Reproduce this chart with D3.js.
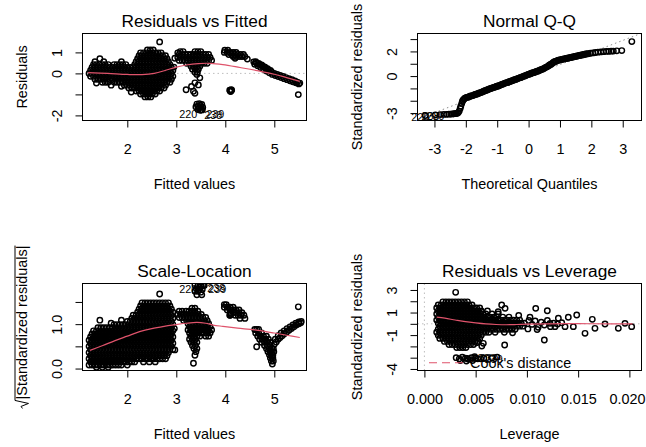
<!DOCTYPE html>
<html>
<head>
<meta charset="utf-8">
<script src="https://cdn.jsdelivr.net/npm/d3@7"></script>
<style>
  html, body { margin: 0; padding: 0; background: #fff; }
  svg { display: block; }
</style>
</head>
<body>
<svg id="chart" width="646" height="447"></svg>
<script>
// ---------------- Residuals vs Fitted ----------------
// rows of points: [residual, [fitted values...]]
const fitResidRows = [
  [1.12,[2.41,2.47,2.53]],
  [0.98,[2.27,2.33,2.39,2.45,2.51,2.57,2.63,2.69]],
  [0.84,[2.24,2.30,2.36,2.42,2.48,2.54,2.60,2.66,2.72,2.78]],
  [0.70,[2.21,2.27,2.33,2.39,2.45,2.51,2.57,2.63,2.69,2.75,2.81]],
  [0.56,[1.34,1.52,1.88,2.18,2.24,2.30,2.36,2.42,2.48,2.54,2.60,2.66,2.72,2.78,2.84]],
  [0.42,[1.31,1.37,1.43,1.49,1.55,1.61,1.73,1.79,1.85,1.91,1.97,2.15,2.21,2.27,2.33,2.39,2.45,2.51,2.57,2.63,2.69,2.75,2.81,2.87]],
  [0.28,[1.28,1.34,1.40,1.46,1.52,1.58,1.64,1.70,1.76,1.82,1.88,1.94,2.00,2.06,2.12,2.18,2.24,2.30,2.36,2.42,2.48,2.54,2.60,2.66,2.72,2.78,2.84,2.90]],
  [0.14,[1.25,1.31,1.37,1.43,1.49,1.55,1.61,1.67,1.73,1.79,1.85,1.91,1.97,2.03,2.09,2.15,2.21,2.27,2.33,2.39,2.45,2.51,2.57,2.63,2.69,2.75,2.81,2.87,2.93]],
  [0.00,[1.22,1.28,1.34,1.40,1.46,1.52,1.58,1.64,1.70,1.76,1.82,1.88,1.94,2.00,2.06,2.12,2.18,2.24,2.30,2.36,2.42,2.48,2.54,2.60,2.66,2.72,2.78,2.84,2.90]],
  [-0.14,[1.25,1.31,1.37,1.43,1.49,1.55,1.61,1.67,1.73,1.79,1.85,1.91,1.97,2.03,2.09,2.15,2.21,2.27,2.33,2.39,2.45,2.51,2.57,2.63,2.69,2.75,2.81,2.87,2.93]],
  [-0.28,[1.34,1.40,1.46,1.52,1.58,1.64,1.70,1.76,1.82,1.88,1.94,2.00,2.06,2.12,2.18,2.24,2.30,2.36,2.42,2.48,2.54,2.60,2.66,2.72,2.78,2.84,2.90]],
  [-0.42,[1.49,1.55,1.61,1.73,1.79,1.85,1.91,1.97,2.03,2.09,2.15,2.21,2.27,2.33,2.39,2.45,2.51,2.57,2.63,2.69,2.75,2.81,2.87]],
  [-0.56,[1.94,2.00,2.06,2.12,2.18,2.24,2.30,2.36,2.42,2.48,2.54,2.60,2.66,2.72,2.78]],
  [-0.70,[2.03,2.09,2.15,2.21,2.27,2.33,2.39,2.45,2.51,2.57,2.63,2.69,2.75]],
  [-0.84,[2.18,2.24,2.30,2.36,2.42,2.48,2.54,2.60,2.66]],
  [-0.98,[2.27,2.33,2.39,2.45,2.51,2.57]],
  [-1.12,[2.36,2.42,2.48]],
  [1.04,[3.08,3.14,3.38,3.44,3.50]],
  [0.90,[3.06,3.12,3.18,3.24,3.30,3.36,3.42,3.48,3.54,3.60,3.66]],
  [0.76,[3.03,3.09,3.15,3.21,3.27,3.33,3.39,3.45,3.51,3.57,3.63,3.69]],
  [0.62,[3.06,3.12,3.18,3.24,3.30,3.36,3.42,3.48,3.54,3.60,3.66,3.72]],
  [0.48,[3.21,3.27,3.33,3.39,3.45,3.51,3.57,3.63]],
  [0.34,[3.30,3.36,3.42,3.48]],
  [0.20,[3.33,3.39,3.45]],
  [0.06,[3.38,3.43]],
  [1.10,[3.99,4.05]],
  [1.00,[3.98,4.04,4.10,4.16,4.22]],
  [0.90,[4.07,4.13,4.19,4.25,4.31,4.37]],
  [0.80,[4.16,4.22,4.28,4.34,4.40]]
];
// single points: [fitted, residual]
const fitResidPoints = [
  [2.66,1.50],[1.44,0.70],[1.37,-0.46],[1.67,-0.56],[1.88,-0.61],[2.08,-0.89],[2.97,0.72],[2.95,0.30],
  [3.03,0.98],[3.20,-0.78],[3.31,-0.62],[3.35,-0.85],[3.38,-0.95],[3.38,-0.45],[3.45,-0.55],[3.48,-0.21],
  [3.42,-0.05],[4.45,0.68],[4.20,0.72],[5.49,-1.01],
  [3.42,-1.46],[3.47,-1.44],[3.52,-1.48],[3.44,-1.56],[3.50,-1.58],[3.46,-1.66],[3.40,-1.60],[3.54,-1.62],
  [3.49,-1.52],[3.44,-1.72],[3.51,-1.73],[3.49,-1.76],[3.53,-1.74],
  [4.09,-0.80],[4.13,-0.80],[4.11,-0.86],[4.10,-0.84],[4.12,-0.78],[4.11,-0.82],
  [4.58,0.55],[4.60,0.44],[4.62,0.56],[4.64,0.50],[4.66,0.37],[4.68,0.48],[4.70,0.43],[4.72,0.28],
  [4.74,0.40],[4.76,0.35],[4.78,0.20],[4.80,0.31],[4.82,0.27],[4.84,0.11],[4.86,0.22],[4.88,0.18],
  [4.90,0.03],[4.92,0.14],[4.94,0.08],[4.96,-0.05],[5.00,0.00],[5.02,-0.10],[5.06,-0.05],[5.08,-0.15],
  [5.12,-0.10],[5.14,-0.20],[5.18,-0.15],[5.20,-0.25],[5.24,-0.20],[5.26,-0.30],[5.30,-0.25],[5.32,-0.35],
  [5.36,-0.30],[5.38,-0.40],[5.42,-0.36],[5.44,-0.45],[5.47,-0.42],[5.50,-0.50],[5.52,-0.46]
];
const fitResidIds = [["220",3.51,-1.73,"left"],["238",3.49,-1.76,"right"],["239",3.53,-1.74,"right"]];
const fitResidSmooth = [[1.20,0.04],[1.60,0.00],[2.00,-0.05],[2.30,-0.06],[2.55,0.00],[2.80,0.16],[3.00,0.30],
  [3.20,0.40],[3.45,0.47],[3.70,0.48],[3.95,0.42],[4.30,0.28],[4.70,0.11],[5.00,-0.04],[5.25,-0.20],[5.52,-0.38]];
const fitTicks = [2,3,4,5];
const fitTickLabels = ["2","3","4","5"];
const residTicks = [-2,-1,0,1];
const residTickLabels = ["-2","","0","1"];

// ---------------- Normal Q-Q ----------------
// [theoretical quantile, standardized residual]
const qqPoints = [
  [-3.29,-3.20],[-2.97,-3.14],[-2.81,-3.12],[-2.70,-3.11],[-2.61,-3.10],[-2.54,-3.09],[-2.48,-3.08],[-2.43,-3.07],
  [-2.39,-3.06],[-2.35,-3.05],[-2.31,-3.03],[-2.27,-3.01],[-2.24,-2.96],[-2.21,-2.84],[-2.18,-2.62],[-2.16,-2.44],
  [-2.13,-2.22],[-2.11,-2.06],[-2.09,-1.96],[-2.06,-1.88],[-2.03,-1.80],[-1.98,-1.74],[-1.94,-1.71],
  [-1.88,-1.66],[-1.81,-1.60],[-1.74,-1.54],[-1.67,-1.47],[-1.60,-1.41],[-1.53,-1.34],[-1.46,-1.27],[-1.39,-1.19],
  [-1.32,-1.12],[-1.25,-1.05],[-1.18,-0.98],[-1.11,-0.92],[-1.04,-0.86],[-0.97,-0.80],[-0.90,-0.73],[-0.83,-0.66],
  [-0.76,-0.59],[-0.69,-0.53],[-0.62,-0.46],[-0.55,-0.40],[-0.48,-0.33],[-0.41,-0.27],[-0.34,-0.20],[-0.27,-0.13],
  [-0.20,-0.06],[-0.13,0.01],[-0.06,0.08],[0.01,0.15],[0.08,0.21],[0.15,0.28],[0.22,0.34],[0.29,0.40],
  [0.36,0.47],[0.43,0.55],[0.50,0.63],[0.57,0.73],[0.64,0.84],[0.71,0.96],[0.78,1.09],[0.85,1.19],
  [0.92,1.26],[0.99,1.31],[1.06,1.35],[1.13,1.39],[1.20,1.43],[1.27,1.47],[1.34,1.51],[1.41,1.55],
  [1.48,1.59],[1.55,1.63],[1.62,1.67],[1.69,1.71],[1.76,1.75],[1.83,1.79],[1.90,1.82],[1.97,1.85],
  [2.05,1.88],[2.13,1.91],[2.21,1.94],[2.30,1.96],[2.39,1.98],[2.48,2.00],[2.56,2.01],[2.63,2.02],
  [2.70,2.03],[2.81,2.05],[2.97,2.07],[3.29,2.80],
  [-1.91,-1.70],[-1.85,-1.61],[-1.78,-1.58],[-1.71,-1.49],[-1.64,-1.45],[-1.57,-1.37],[-1.50,-1.32],[-1.43,-1.22],
  [-1.36,-1.17],[-1.29,-1.08],[-1.22,-1.02],[-1.15,-0.95],[-1.08,-0.90],[-1.01,-0.82],[-0.94,-0.78],[-0.87,-0.69],
  [-0.80,-0.63],[-0.73,-0.55],[-0.66,-0.51],[-0.59,-0.43],[-0.52,-0.37],[-0.45,-0.29],[-0.38,-0.24],[-0.31,-0.16],
  [-0.24,-0.11],[-0.17,-0.02],[-0.10,0.03],[-0.03,0.12],[0.04,0.17],[0.11,0.25],[0.18,0.30],[0.25,0.38],
  [0.32,0.43],[0.39,0.52],[0.46,0.58],[0.53,0.69],[0.60,0.77],[0.67,0.90],[0.74,1.01],[0.81,1.14],
  [0.88,1.21],[0.95,1.29],[1.02,1.32],[1.09,1.38],[1.16,1.40],[1.23,1.45],[1.30,1.48],[1.37,1.53],
  [1.44,1.56],[1.51,1.61],[1.58,1.64],[1.65,1.69],[1.72,1.72],[1.79,1.77],[1.86,1.80]
];
const qqIds = [["220",-3.29,-3.20,"center"],["238",-2.97,-3.14,"center"],["239",-2.81,-3.12,"center"]];
const qqLineCoef = [-0.04, 0.977];   // intercept, slope
const qqXTicks = [-3,-2,-1,0,1,2,3];
const qqXTickLabels = ["-3","-2","-1","0","1","2","3"];
const qqYTicks = [-3,-2,-1,0,1,2,3];
const qqYTickLabels = ["-3","","","0","","2",""];

// ---------------- Scale-Location ----------------
const scaleRows = [
  [1.48,[2.30,2.36,2.42,2.48,2.54,2.60,2.66,2.72,2.78,2.84]],
  [1.41,[2.27,2.33,2.39,2.45,2.51,2.57,2.63,2.69,2.75,2.81,2.87]],
  [1.34,[2.24,2.30,2.36,2.42,2.48,2.54,2.60,2.66,2.72,2.78,2.84,2.90]],
  [1.27,[2.21,2.27,2.33,2.39,2.45,2.51,2.57,2.63,2.69,2.75,2.81,2.87,2.93]],
  [1.20,[2.12,2.18,2.24,2.30,2.36,2.42,2.48,2.54,2.60,2.66,2.72,2.78,2.84,2.90]],
  [1.13,[2.09,2.15,2.21,2.27,2.33,2.39,2.45,2.51,2.57,2.63,2.69,2.75,2.81,2.87,2.93]],
  [1.06,[2.00,2.06,2.12,2.18,2.24,2.30,2.36,2.42,2.48,2.54,2.60,2.66,2.72,2.78,2.84,2.90]],
  [0.99,[1.73,1.79,1.85,1.91,1.97,2.03,2.09,2.15,2.21,2.27,2.33,2.39,2.45,2.51,2.57,2.63,2.69,2.75,2.81,2.87,2.93]],
  [0.92,[1.40,1.46,1.52,1.58,1.64,1.70,1.76,1.82,1.88,1.94,2.00,2.06,2.12,2.18,2.24,2.30,2.36,2.42,2.48,2.54,2.60,2.66,2.72,2.78,2.84,2.90]],
  [0.85,[1.31,1.37,1.43,1.49,1.55,1.61,1.67,1.73,1.79,1.85,1.91,1.97,2.03,2.09,2.15,2.21,2.27,2.33,2.39,2.45,2.51,2.57,2.63,2.69,2.75,2.81,2.87,2.93]],
  [0.78,[1.28,1.34,1.40,1.46,1.52,1.58,1.64,1.70,1.76,1.82,1.88,1.94,2.00,2.06,2.12,2.18,2.24,2.30,2.36,2.42,2.48,2.54,2.60,2.66,2.72,2.78,2.84,2.90]],
  [0.71,[1.25,1.31,1.37,1.43,1.49,1.55,1.61,1.67,1.73,1.79,1.85,1.91,1.97,2.03,2.09,2.15,2.21,2.27,2.33,2.39,2.45,2.51,2.57,2.63,2.69,2.75,2.81,2.87,2.93]],
  [0.64,[1.22,1.28,1.34,1.40,1.46,1.52,1.58,1.64,1.70,1.76,1.82,1.88,1.94,2.00,2.06,2.12,2.18,2.24,2.30,2.36,2.42,2.48,2.54,2.60,2.66,2.72,2.78,2.84,2.90]],
  [0.57,[1.25,1.31,1.37,1.43,1.49,1.55,1.61,1.67,1.73,1.79,1.85,1.91,1.97,2.03,2.09,2.15,2.21,2.27,2.33,2.39,2.45,2.51,2.57,2.63,2.69,2.75,2.81,2.87,2.93]],
  [0.50,[1.22,1.28,1.34,1.40,1.46,1.52,1.58,1.64,1.70,1.76,1.82,1.88,1.94,2.00,2.06,2.12,2.18,2.24,2.30,2.36,2.42,2.48,2.54,2.60,2.66,2.72,2.78,2.84,2.90]],
  [0.43,[1.25,1.31,1.37,1.43,1.49,1.55,1.61,1.67,1.73,1.79,1.85,1.91,1.97,2.03,2.09,2.15,2.21,2.27,2.33,2.39,2.45,2.51,2.57,2.63,2.69,2.75,2.81,2.87,2.93]],
  [0.36,[1.22,1.28,1.34,1.40,1.46,1.52,1.58,1.64,1.70,1.76,1.82,1.88,1.94,2.00,2.06,2.12,2.18,2.24,2.30,2.36,2.42,2.48,2.54,2.60,2.66,2.72,2.78,2.84]],
  [0.29,[1.25,1.31,1.37,1.43,1.49,1.55,1.61,1.67,1.73,1.79,1.85,1.91,1.97,2.03,2.09,2.15,2.21,2.27,2.33,2.39,2.45,2.51,2.57,2.63,2.69,2.75,2.81]],
  [0.22,[1.22,1.28,1.34,1.40,1.46,1.52,1.58,1.64,1.70,1.76,1.82,1.88,1.94,2.00,2.06,2.12,2.18,2.24,2.30,2.36,2.42,2.48,2.54,2.60,2.66,2.72,2.78]],
  [0.15,[1.25,1.31,1.37,1.43,1.49,1.55,1.61,1.67,1.73,1.79,1.85,1.91,1.97,2.03,2.09,2.15,2.33,2.45,2.57]],
  [0.08,[1.22,1.28,1.34,1.40,1.46,1.52,1.58,1.64,1.70,1.76,1.82,1.88,2.00]],
  [0.03,[1.37,1.49,1.61]],
  [1.36,[3.32,3.38]],
  [1.29,[3.06,3.12,3.20,3.26,3.32,3.38,3.44]],
  [1.22,[3.03,3.09,3.15,3.21,3.27,3.33,3.39,3.45,3.51]],
  [1.15,[3.06,3.12,3.18,3.24,3.30,3.36,3.42,3.48,3.54,3.60]],
  [1.08,[3.15,3.21,3.27,3.33,3.39,3.45,3.51,3.57,3.63]],
  [1.01,[3.24,3.30,3.36,3.42,3.48,3.54,3.60,3.66]],
  [0.94,[3.27,3.33,3.39,3.45,3.51,3.57,3.63,3.69]],
  [0.87,[3.24,3.30,3.36,3.42,3.48,3.54,3.60,3.66,3.72]],
  [0.80,[3.27,3.33,3.39,3.45,3.51,3.57,3.63,3.69]],
  [0.73,[3.30,3.36,3.42,3.48,3.60,3.66]],
  [0.66,[3.27,3.33,3.39]],
  [0.59,[3.30,3.36,3.42]],
  [0.52,[3.33,3.39]],
  [0.45,[3.36,3.42]],
  [0.38,[3.40]],
  [1.44,[3.98,4.02]],
  [1.38,[3.98,4.04,4.10,4.16]],
  [1.32,[4.04,4.10,4.16,4.22,4.28]],
  [1.26,[4.10,4.16,4.22,4.28,4.34]],
  [1.20,[4.10,4.20,4.26,4.32,4.38]],
  [1.13,[4.30,4.40]],
  [0.88,[4.60,4.64,4.68]],
  [0.80,[4.62,4.68,4.74]],
  [0.73,[4.66,4.72,4.78,4.84]],
  [0.66,[4.70,4.76,4.82,4.88]],
  [0.59,[4.74,4.80,4.86,4.92]],
  [0.52,[4.80,4.86,4.92]],
  [0.45,[4.84,4.90,4.95]],
  [0.38,[4.87,4.92,4.96]],
  [0.31,[4.90,4.95]],
  [0.24,[4.92,4.97]],
  [0.17,[4.94,4.98]],
  [0.10,[4.96]]
];
const scalePoints = [
  [2.66,1.68],[1.44,1.09],[1.67,1.02],[1.88,1.09],[2.97,0.42],[2.96,0.90],[3.35,0.12],[3.38,0.30],
  [4.64,0.49],[5.49,1.39],[4.11,1.22],[4.12,1.24],[4.09,1.20],
  [3.38,1.88],[3.44,1.86],[3.50,1.84],[3.41,1.80],[3.47,1.78],[3.44,1.74],[3.50,1.72],[3.38,1.74],
  [3.53,1.78],[3.42,1.66],[3.52,1.66],[3.51,1.87],[3.55,1.88],[3.57,1.87],
  [4.97,0.30],[4.99,0.38],[4.98,0.45],[5.00,0.55],[5.04,0.60],[5.08,0.66],[5.12,0.70],[5.16,0.74],
  [5.20,0.78],[5.25,0.82],[5.30,0.86],[5.35,0.90],[5.40,0.94],[5.45,0.98],[5.50,1.01],[5.54,1.03],
  [5.02,0.66],[5.08,0.74],[5.14,0.80],[5.20,0.85],[5.26,0.90],[5.32,0.94],[5.38,0.98],[5.44,1.02],
  [5.50,1.05],[5.55,1.06]
];
const scaleIds = [["220",3.51,1.87,"left"],["238",3.55,1.88,"right"],["239",3.57,1.87,"right"]];
const scaleSmooth = [[1.24,0.41],[1.50,0.52],[1.75,0.63],[2.00,0.73],[2.25,0.83],[2.50,0.90],[2.75,0.95],
  [3.00,0.99],[3.20,1.02],[3.42,1.04],[3.60,1.02],[3.75,0.98],[3.95,0.95],[4.25,0.91],[4.60,0.87],
  [5.00,0.80],[5.25,0.75],[5.52,0.70]];
const scaleTicks = [0,0.5,1,1.5];
const scaleTickLabels = ["0.0","","1.0",""];

// ---------------- Residuals vs Leverage ----------------
const levRows = [
  [1.95,[0.0018,0.0021,0.0024,0.0027,0.0030,0.0033,0.0036,0.0039,0.0042]],
  [1.68,[0.00135,0.00165,0.00195,0.00225,0.00255,0.00285,0.00315,0.00345,0.00375,0.00405,0.00435,0.00465]],
  [1.41,[0.0012,0.0015,0.0018,0.0021,0.0024,0.0027,0.0030,0.0033,0.0036,0.0039,0.0042,0.0045,0.0048,0.0051,0.0054]],
  [1.14,[0.00135,0.00165,0.00195,0.00225,0.00255,0.00285,0.00315,0.00345,0.00375,0.00405,0.00435,0.00465,0.00495,0.00525,0.00555,0.00615]],
  [0.87,[0.0012,0.0015,0.0018,0.0021,0.0024,0.0027,0.0030,0.0033,0.0036,0.0039,0.0042,0.0045,0.0048,0.0051,0.0054,0.0057,0.0060,0.0066,0.0072]],
  [0.60,[0.00135,0.00165,0.00195,0.00225,0.00255,0.00285,0.00315,0.00345,0.00375,0.00405,0.00435,0.00465,0.00495,0.00525,0.00555,0.00585,0.00615,0.00645,0.00675,0.00705,0.00765,0.00825]],
  [0.33,[0.0012,0.0015,0.0018,0.0021,0.0024,0.0027,0.0030,0.0033,0.0036,0.0039,0.0042,0.0045,0.0048,0.0051,0.0054,0.0057,0.0060,0.0063,0.0066,0.0069,0.0072,0.0075,0.0078,0.0081,0.0084,0.0087,0.0090,0.0093]],
  [0.06,[0.00135,0.00165,0.00195,0.00225,0.00255,0.00285,0.00315,0.00345,0.00375,0.00405,0.00435,0.00465,0.00495,0.00525,0.00555,0.00585,0.00615,0.00645,0.00675,0.00705,0.00735,0.00765,0.00795,0.00825,0.00855,0.00885,0.00915,0.00945,0.00975]],
  [-0.21,[0.0015,0.0018,0.0021,0.0024,0.0027,0.0030,0.0033,0.0036,0.0039,0.0042,0.0045,0.0048,0.0051,0.0054,0.0057,0.0060,0.0063,0.0066,0.0069,0.0072,0.0075,0.0078,0.0081,0.0084,0.0087,0.0090,0.0093,0.0096]],
  [-0.48,[0.00135,0.00165,0.00195,0.00225,0.00255,0.00285,0.00315,0.00345,0.00375,0.00405,0.00435,0.00465,0.00495,0.00525,0.00555,0.00585,0.00615,0.00645,0.00675,0.00705,0.00735,0.00765,0.00795,0.00825,0.00855,0.00885]],
  [-0.75,[0.0012,0.0015,0.0018,0.0021,0.0024,0.0027,0.0030,0.0033,0.0036,0.0039,0.0042,0.0045,0.0048,0.0051,0.0054,0.0057,0.0060,0.0063,0.0069,0.0078]],
  [-1.02,[0.00135,0.00165,0.00195,0.00225,0.00255,0.00285,0.00315,0.00345,0.00375,0.00405,0.00435,0.00465,0.00495,0.00525,0.00555]],
  [-1.29,[0.0015,0.0018,0.0021,0.0024,0.0027,0.0030,0.0033,0.0036,0.0039,0.0042,0.0045,0.0048,0.0051,0.0054]],
  [-1.56,[0.00195,0.00225,0.00255,0.00285,0.00315,0.00345,0.00375,0.00405,0.00435,0.00465,0.00495,0.00525]],
  [-1.83,[0.0024,0.0027,0.0030,0.0033,0.0036,0.0039,0.0042,0.0045,0.0048]],
  [-2.10,[0.00315,0.00345,0.00375,0.00405]]
];
const levPoints = [
  [0.00305,2.79],[0.00754,1.67],[0.00787,1.37],[0.0072,1.08],[0.00783,-1.88],[0.0051,-1.67],[0.00575,-1.73],
  [0.0056,-1.97],[0.0092,0.75],[0.0086,-0.80],
  [0.0031,-3.00],[0.0034,-3.10],[0.0037,-2.95],[0.0040,-3.05],[0.0043,-3.15],[0.0046,-3.00],[0.0049,-2.90],
  [0.0052,-3.10],[0.0035,-3.25],[0.0041,-3.30],[0.0047,-3.25],[0.0058,-3.05],[0.0066,-3.00],[0.0071,-2.95],
  [0.0042,-3.07],[0.0050,-3.05],[0.0055,-3.10],
  [0.0102,0.30],[0.0105,-0.05],[0.0108,0.25],[0.0111,-0.30],[0.0114,0.15],[0.0117,-0.10],[0.0120,0.30],
  [0.0123,-0.25],[0.0126,0.05],[0.0103,0.58],[0.0101,-0.45],[0.0110,-0.50],
  [0.01086,1.37],[0.01199,1.16],[0.0117,-1.43],[0.01486,0.78],[0.01638,0.40],[0.01567,-0.84],[0.01664,-0.40],
  [0.01762,-0.02],[0.01892,-0.40],[0.01957,0.04],[0.02022,-0.25],[0.01307,0.49],[0.01404,0.58],
  [0.01274,-0.25],[0.01372,-0.25],[0.01453,-0.25],[0.01225,0.04],[0.0134,0.10],[0.0130,-0.02]
];
const levIds = [["220",0.0042,-3.07,"right"],["238",0.0050,-3.05,"right"],["239",0.0055,-3.10,"right"]];
const levSmooth = [[0.0012,0.60],[0.002,0.50],[0.003,0.34],[0.004,0.19],[0.005,0.08],[0.006,-0.01],[0.007,-0.06],
  [0.008,-0.08],[0.009,-0.06],[0.010,-0.03],[0.012,0.00],[0.015,0.01],[0.018,0.00],[0.0203,-0.01]];
const levTicks = [0,0.005,0.010,0.015,0.020];
const levTickLabels = ["0.000","0.005","0.010","0.015","0.020"];
const levYTicks = [-4,-3,-2,-1,0,1,2,3];
const levYTickLabels = ["-4","","","-1","","1","","3"];

// ---------------- drawing ----------------
const FONT = '"Liberation Sans", Arial, Helvetica, sans-serif';
const RED = "#DF536B";
const W = 646;
const svg = d3.select("#chart");
const defs = svg.append("defs");
const rowsToPoints = rows => rows.flatMap(([v, xs]) => xs.map(x => [x, v]));

function textEl(parent, s, size) {
  return parent.append("text").attr("font-family", FONT).attr("font-size", size).attr("fill", "#000").text(s);
}

function panel(cfg, idx) {
  const b = cfg.box;
  const x = d3.scaleLinear().domain(cfg.xDomain).range([b.left, b.right]);
  const y = d3.scaleLinear().domain(cfg.yDomain).range([b.bottom, b.top]);
  const clipId = "clip" + idx;
  defs.append("clipPath").attr("id", clipId).append("rect")
    .attr("x", b.left).attr("y", b.top).attr("width", b.right - b.left).attr("height", b.bottom - b.top);
  const plot = svg.append("g").attr("clip-path", `url(#${clipId})`);

  // dotted reference lines
  (cfg.hLines || []).forEach(v => plot.append("line")
    .attr("x1", b.left).attr("x2", b.right).attr("y1", y(v)).attr("y2", y(v))
    .attr("stroke", "#BEBEBE").attr("stroke-width", 1).attr("stroke-dasharray", "1.5,3"));
  (cfg.vLines || []).forEach(v => plot.append("line")
    .attr("y1", b.top).attr("y2", b.bottom).attr("x1", x(v)).attr("x2", x(v))
    .attr("stroke", "#BEBEBE").attr("stroke-width", 1).attr("stroke-dasharray", "1.5,3"));
  if (cfg.abLine) {
    const [a, s] = cfg.abLine;
    const [x0, x1] = cfg.xDomain;
    plot.append("line").attr("x1", x(x0)).attr("y1", y(a + s * x0)).attr("x2", x(x1)).attr("y2", y(a + s * x1))
      .attr("stroke", "#8C8C8C").attr("stroke-width", 1).attr("stroke-dasharray", "1.5,3");
  }

  // observations (open circles)
  plot.append("g").selectAll("circle").data(cfg.points).join("circle")
    .attr("cx", d => x(d[0])).attr("cy", d => y(d[1])).attr("r", 2.7)
    .attr("fill", "none").attr("stroke", "#000").attr("stroke-width", 1.45);

  // smoother
  if (cfg.smooth) {
    plot.append("path").datum(cfg.smooth)
      .attr("d", d3.line().x(d => x(d[0])).y(d => y(d[1])).curve(d3.curveCatmullRom.alpha(0.5)))
      .attr("fill", "none").attr("stroke", RED).attr("stroke-width", 1.2);
  }

  // frame
  svg.append("rect").attr("x", b.left).attr("y", b.top)
    .attr("width", b.right - b.left).attr("height", b.bottom - b.top)
    .attr("fill", "none").attr("stroke", "#000").attr("stroke-width", 1);

  // x axis
  const gx = svg.append("g").attr("transform", `translate(0,${b.bottom})`)
    .call(d3.axisBottom(x).tickValues(cfg.xTicks).tickFormat((d, i) => cfg.xTickLabels[i])
      .tickSize(7).tickSizeOuter(0).tickPadding(16.3));
  gx.attr("font-family", null).attr("font-size", null);
  gx.select(".domain").remove();
  gx.selectAll(".tick line").attr("stroke", "#000");
  gx.selectAll(".tick text").attr("font-family", FONT).attr("font-size", 14.4).attr("fill", "#000")
    .each(function (d) {
      // keep the outermost label inside the page
      const w = this.getComputedTextLength();
      const over = x(d) + w / 2 - (W - 1);
      if (over > 0) d3.select(this).attr("x", -over);
    });

  // y axis (labels parallel to the axis)
  const gy = svg.append("g").attr("transform", `translate(${b.left},0)`)
    .call(d3.axisLeft(y).tickValues(cfg.yTicks).tickFormat((d, i) => cfg.yTickLabels[i])
      .tickSize(7).tickSizeOuter(0));
  gy.attr("font-family", null).attr("font-size", null);
  gy.select(".domain").remove();
  gy.selectAll(".tick line").attr("stroke", "#000");
  gy.selectAll(".tick text").attr("font-family", FONT).attr("font-size", 14.4).attr("fill", "#000")
    .attr("transform", "rotate(-90)").attr("x", 0).attr("y", -20.5).attr("dy", null)
    .attr("text-anchor", "middle");

  // titles
  const cx = (b.left + b.right) / 2, cy = (b.top + b.bottom) / 2;
  textEl(svg, cfg.title, 17.3).attr("x", cx).attr("y", b.top - 6.5).attr("text-anchor", "middle");
  textEl(svg, cfg.xTitle, 14.4).attr("x", cx).attr("y", b.bottom + 68).attr("text-anchor", "middle");
  if (cfg.sqrtYTitle) {
    const g = svg.append("g").attr("transform", `translate(${b.left - 56},${cy}) rotate(-90)`);
    const t = textEl(g, cfg.yTitle, 14.4);
    const w = t.node().getComputedTextLength();
    const rad = 9;
    const x0 = -(w + rad) / 2 + rad;
    t.attr("x", x0);
    g.append("path")
      .attr("d", `M${x0 - 9},-4 L${x0 - 7},-5.5 L${x0 - 4},2 L${x0 - 1},-11.5 H${x0 + w}`)
      .attr("fill", "none").attr("stroke", "#000").attr("stroke-width", 1);
  } else {
    textEl(svg, cfg.yTitle, 14.4).attr("text-anchor", "middle")
      .attr("transform", `translate(${b.left - 56},${cy}) rotate(-90)`);
  }

  // identified observations
  (cfg.ids || []).forEach(([lab, px, py, side]) => {
    const t = textEl(svg, lab, 10.8).attr("y", y(py) + cfg.idDy);
    if (side === "left") t.attr("x", x(px) - 4).attr("text-anchor", "end");
    else if (side === "right") t.attr("x", x(px) + 4).attr("text-anchor", "start");
    else t.attr("x", x(px) - 5).attr("text-anchor", "middle");
  });

  return { x, y };
}

const boxTL = { left: 82.5, right: 306.5, top: 33.5, bottom: 120.5 };
const boxTR = { left: 417.5, right: 641.5, top: 33.5, bottom: 120.5 };
const boxBL = { left: 82.5, right: 306.5, top: 283.5, bottom: 370.5 };
const boxBR = { left: 417.5, right: 641.5, top: 283.5, bottom: 370.5 };

panel({
  box: boxTL, xDomain: [1.0857, 5.657], yDomain: [-2.243, 1.9],
  xTicks: fitTicks, xTickLabels: fitTickLabels, yTicks: residTicks, yTickLabels: residTickLabels,
  title: "Residuals vs Fitted", xTitle: "Fitted values", yTitle: "Residuals",
  points: rowsToPoints(fitResidRows).concat(fitResidPoints), smooth: fitResidSmooth,
  hLines: [0], ids: fitResidIds, idDy: 8.3
}, 1);

panel({
  box: boxTR, xDomain: [-3.540, 3.598], yDomain: [-3.602, 3.454],
  xTicks: qqXTicks, xTickLabels: qqXTickLabels, yTicks: qqYTicks, yTickLabels: qqYTickLabels,
  title: "Normal Q-Q", xTitle: "Theoretical Quantiles", yTitle: "Standardized residuals",
  points: qqPoints, abLine: qqLineCoef, ids: qqIds, idDy: 5
}, 2);

panel({
  box: boxBL, xDomain: [1.0857, 5.657], yDomain: [-0.0439, 1.9155],
  xTicks: fitTicks, xTickLabels: fitTickLabels, yTicks: scaleTicks, yTickLabels: scaleTickLabels,
  title: "Scale-Location", xTitle: "Fitted values", yTitle: "|Standardized residuals|", sqrtYTitle: true,
  points: rowsToPoints(scaleRows).concat(scalePoints), smooth: scaleSmooth,
  ids: scaleIds, idDy: 7
}, 3);

panel({
  box: boxBR, xDomain: [-0.000673, 0.02118], yDomain: [-4.136, 3.573],
  xTicks: levTicks, xTickLabels: levTickLabels, yTicks: levYTicks, yTickLabels: levYTickLabels,
  title: "Residuals vs Leverage", xTitle: "Leverage", yTitle: "Standardized residuals",
  points: rowsToPoints(levRows).concat(levPoints), smooth: levSmooth,
  hLines: [0], vLines: [0], ids: levIds, idDy: 3.8
}, 4);

// Cook's distance legend
svg.append("line").attr("x1", 429).attr("x2", 466).attr("y1", 362.7).attr("y2", 362.7)
  .attr("stroke", RED).attr("stroke-width", 1.1).attr("stroke-dasharray", "8,5");
textEl(svg, "Cook's distance", 14.4).attr("x", 470).attr("y", 368);
</script>
</body>
</html>
